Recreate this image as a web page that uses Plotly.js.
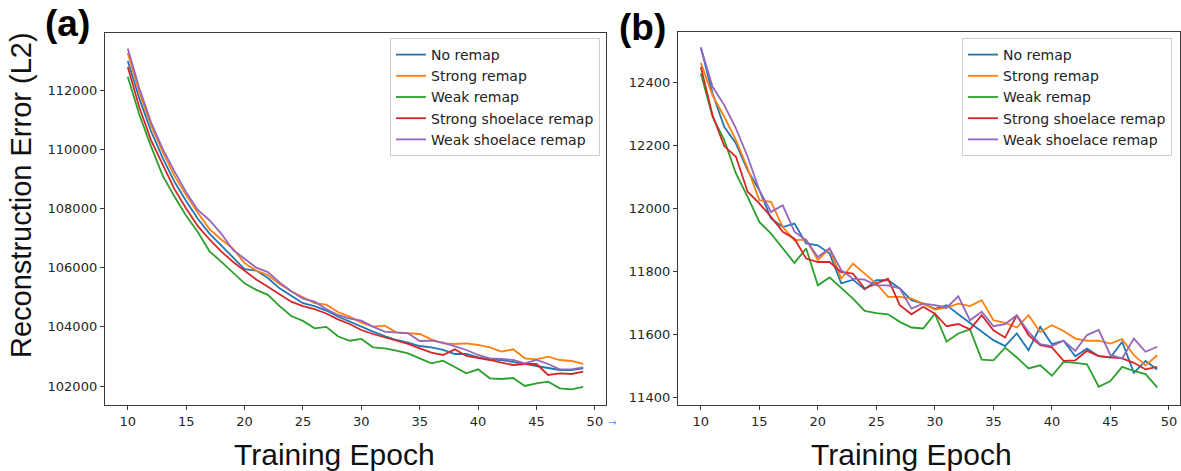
<!DOCTYPE html>
<html>
<head>
<meta charset="utf-8">
<script src="https://cdn.plot.ly/plotly-3.0.1.min.js"></script>
<style>html,body{margin:0;padding:0;background:#fff;}#chart{width:1181px;height:471px;}</style>
</head>
<body>
<div id="chart"></div>
<script>
const epochs = [10,11,12,13,14,15,16,17,18,19,20,21,22,23,24,25,26,27,28,29,30,31,32,33,34,35,36,37,38,39,40,41,42,43,44,45,46,47,48,49];
const seriesNames = ["No remap","Strong remap","Weak remap","Strong shoelace remap","Weak shoelace remap"];

// Panel (a)
const a_noRemap = [112980,111700,110600,109700,108900,108250,107650,107150,106750,106350,105950,105900,105650,105300,105050,104800,104700,104550,104350,104174,104005,103836,103690,103555,103465,103352,103307,103217,103082,103082,102969,102902,102879,102823,102744,102676,102598,102541,102541,102598];
const a_strongRemap = [113250,111900,110800,109900,109100,108450,107850,107300,106950,106650,106150,105900,105750,105450,105200,105000,104800,104750,104500,104343,104140,104005,104039,103814,103780,103757,103577,103442,103420,103442,103386,103307,103160,103239,102935,102902,102992,102879,102845,102744];
const a_weakRemap = [112450,111156,110086,109100,108400,107750,107200,106550,106200,105850,105470,105250,105080,104700,104366,104200,103950,104000,103680,103530,103589,103307,103273,103194,103104,102935,102767,102857,102631,102429,102564,102260,102237,102271,102001,102091,102147,101922,101888,101967];
const a_strongShoelace = [112780,111400,110300,109450,108650,108000,107400,106950,106550,106200,105900,105600,105350,105100,104850,104700,104600,104450,104250,104095,103892,103757,103645,103555,103420,103273,103127,103048,103239,103014,102958,102879,102789,102710,102744,102744,102372,102429,102406,102485];
const a_weakShoelace = [113400,112050,110900,110000,109250,108550,107950,107600,107150,106600,106300,106000,105850,105500,105200,104950,104850,104600,104400,104275,104208,104005,103836,103814,103780,103521,103532,103465,103352,103217,103048,102935,102913,102879,102766,102879,102744,102564,102564,102631];

// Panel (b)
const b_noRemap = [12510,12364,12258,12205,12120,12057,11967,11940,11951,11888,11882,11856,11761,11773,11742,11771,11771,11745,11708,11697,11680,11692,11663,11636,11608,11581,11562,11602,11549,11623,11568,11579,11530,11554,11530,11526,11576,11477,11515,11488];
const b_strongRemap = [12461,12358,12290,12216,12126,12025,12020,11940,11898,11900,11835,11872,11776,11824,11792,11760,11718,11718,11713,11697,11678,11684,11697,11689,11708,11644,11636,11621,11660,11607,11628,11610,11586,11579,11579,11570,11584,11533,11501,11533];
const b_weakRemap = [12427,12290,12216,12110,12036,11956,11919,11872,11826,11872,11755,11780,11745,11713,11674,11667,11663,11639,11621,11618,11665,11576,11602,11615,11519,11517,11557,11526,11491,11501,11468,11512,11509,11504,11433,11451,11496,11483,11473,11431];
const b_strongShoelace = [12448,12295,12197,12163,12052,12015,11972,11925,11903,11840,11829,11829,11797,11792,11745,11760,11776,11692,11663,11687,11665,11625,11632,11615,11660,11612,11589,11660,11597,11565,11558,11515,11517,11547,11530,11526,11523,11509,11488,11496];
const b_weakShoelace = [12510,12385,12327,12253,12163,12057,11988,12009,11925,11898,11845,11872,11803,11776,11773,11755,11755,11745,11681,11697,11692,11684,11720,11644,11671,11625,11632,11660,11607,11568,11562,11579,11547,11597,11613,11533,11523,11586,11544,11560];

const xTicks = [10,15,20,25,30,35,40,45,50];
const xTitle = "Training Epoch";
const yTitle = "Reconstruction Error (L2)";
const panelLabels = ["(a)","(b)"];

const colors = ["#1f77b4","#ff7f0e","#2ca02c","#d62728","#9467bd"];
const aSeries = [a_noRemap,a_strongRemap,a_weakRemap,a_strongShoelace,a_weakShoelace];
const bSeries = [b_noRemap,b_strongRemap,b_weakRemap,b_strongShoelace,b_weakShoelace];

const traces = [];
aSeries.forEach((ys,i)=>traces.push({x:epochs,y:ys,name:seriesNames[i],type:"scatter",mode:"lines",
  line:{color:colors[i],width:1.8},xaxis:"x",yaxis:"y",legend:"legend"}));
bSeries.forEach((ys,i)=>traces.push({x:epochs,y:ys,name:seriesNames[i],type:"scatter",mode:"lines",
  line:{color:colors[i],width:1.8},xaxis:"x2",yaxis:"y2",legend:"legend2"}));

const tickFont = {family:"DejaVu Sans",size:13,color:"#262626"};
const axBase = {showline:true,mirror:true,linecolor:"#3a3a3a",linewidth:1.2,ticks:"outside",ticklen:4,
  tickcolor:"#3a3a3a",tickwidth:1,showgrid:false,zeroline:false,tickfont:tickFont,fixedrange:true};
const legBase = {font:{family:"DejaVu Sans",size:14,color:"#222"},bgcolor:"rgba(255,255,255,0.9)",
  bordercolor:"#cfcfcf",borderwidth:1,xanchor:"right",yanchor:"top",itemwidth:30,tracegroupgap:0};

const layout = {
  width:1181,height:471,margin:{l:0,r:0,t:0,b:0},paper_bgcolor:"#fff",plot_bgcolor:"#fff",
  showlegend:true,
  xaxis:Object.assign({},axBase,{domain:[0.0889,0.5131],range:[8.05,50.95],tickmode:"array",tickvals:xTicks,anchor:"y"}),
  yaxis:Object.assign({},axBase,{domain:[0.1401,0.9299],range:[101358,113926],tickmode:"linear",tick0:0,dtick:2000,tickformat:"d",anchor:"x"}),
  xaxis2:Object.assign({},axBase,{domain:[0.5741,0.9992],range:[8.05,50.95],tickmode:"array",tickvals:xTicks,anchor:"y2"}),
  yaxis2:Object.assign({},axBase,{domain:[0.1401,0.932],range:[11375,12559],tickmode:"linear",tick0:0,dtick:200,tickformat:"d",anchor:"x2"}),
  legend:Object.assign({},legBase,{x:600/1181,y:1-38/471}),
  legend2:Object.assign({},legBase,{x:1172/1181,y:1-38/471}),
  annotations:[
    {text:xTitle,xref:"paper",yref:"paper",x:334/1181,y:1-454/471,xanchor:"center",yanchor:"middle",showarrow:false,
     font:{family:"Liberation Sans",size:30,color:"#111"}},
    {text:xTitle,xref:"paper",yref:"paper",x:911/1181,y:1-454/471,xanchor:"center",yanchor:"middle",showarrow:false,
     font:{family:"Liberation Sans",size:30,color:"#111"}},
    {text:yTitle,xref:"paper",yref:"paper",x:21/1181,y:1-195/471,xanchor:"center",yanchor:"middle",showarrow:false,textangle:-90,
     font:{family:"Liberation Sans",size:29,color:"#111"}},
    {text:"<b>"+panelLabels[0]+"</b>",xref:"paper",yref:"paper",x:67/1181,y:1-24/471,xanchor:"center",yanchor:"middle",showarrow:false,
     font:{family:"Liberation Sans",size:37,color:"#000"}},
    {text:"<b>"+panelLabels[1]+"</b>",xref:"paper",yref:"paper",x:642/1181,y:1-28/471,xanchor:"center",yanchor:"middle",showarrow:false,
     font:{family:"Liberation Sans",size:37,color:"#000"}},
    {text:"→",xref:"paper",yref:"paper",x:612/1181,y:1-422/471,xanchor:"center",yanchor:"middle",showarrow:false,
     font:{family:"DejaVu Sans",size:10,color:"#3d9bff"}}
  ]
};
Plotly.newPlot("chart",traces,layout,{displayModeBar:false,staticPlot:true});
</script>
</body>
</html>
